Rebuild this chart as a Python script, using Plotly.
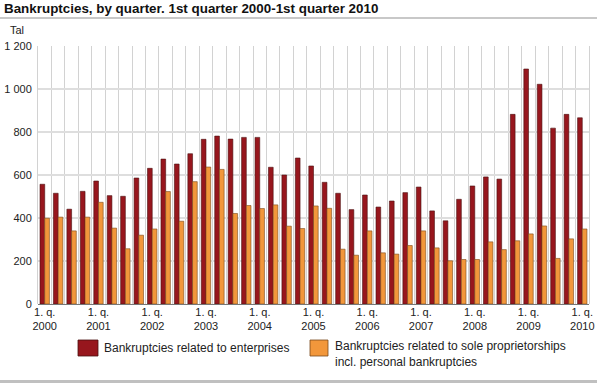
import plotly.graph_objects as go

# ---- data ----
years = list(range(2000, 2011))
quarters = [f"{y} Q{q}" for y in range(2000, 2010) for q in range(1, 5)] + ["2010 Q1"]

enterprises = [
    557, 515, 441, 524,
    572, 504, 501, 586,
    631, 674, 651, 699,
    766, 781, 767, 775,
    775, 636, 600, 679,
    642, 566, 515, 439,
    507, 451, 479, 518,
    544, 433, 387, 487,
    549, 591, 581, 882,
    1093, 1022, 818, 882,
    866,
]
sole_proprietorships = [
    399, 404, 340, 404,
    473, 353, 257, 320,
    349, 523, 385, 569,
    637, 626, 421, 458,
    444, 461, 362, 351,
    456, 445, 255, 227,
    340, 238, 232, 272,
    340, 261, 201, 207,
    207, 289, 253, 294,
    326, 363, 212, 303,
    349,
]

y_tickvals = [0, 200, 400, 600, 800, 1000, 1200]
y_ticktext = ["0", "200", "400", "600", "800", "1 000", "1 200"]
x_tick_labels = [f"1. q.<br>{y}" for y in years]

series_names = [
    "Bankruptcies related to enterprises",
    "Bankruptcies related to sole proprietorships<br>incl. personal bankruptcies",
]
title_text = "Bankruptcies, by quarter. 1st quarter 2000-1st quarter 2010"

RED = "#97161D"
ORANGE = "#F2973B"
FONT = "Liberation Sans, Arial, sans-serif"

# ---- figure ----
xpos = list(range(len(quarters)))
x_tickvals = [i for i, q in enumerate(quarters) if q.endswith("Q1")]

fig = go.Figure()
fig.add_trace(go.Bar(
    x=xpos, y=enterprises, name=series_names[0], customdata=quarters,
    marker=dict(color=RED, line=dict(color="#4a1010", width=0.6)),
))
fig.add_trace(go.Bar(
    x=xpos, y=sole_proprietorships, name=series_names[1], customdata=quarters,
    marker=dict(color=ORANGE, line=dict(color="#7a4a1c", width=0.6)),
))

W, H = 597, 383
PX0, PX1, PY0, PY1 = 38, 589, 46, 304   # plot area in pixels
L, R, T, B = PX0, W - PX1, PY0, H - PY1
pw, ph = PX1 - PX0, PY1 - PY0

def px_x(p):  # pixel x -> paper
    return (p - PX0) / pw

def px_y(p):  # pixel y -> paper
    return (PY1 - p) / ph

fig.update_layout(
    width=W, height=H,
    margin=dict(l=L, r=R, t=T, b=B, autoexpand=False),
    paper_bgcolor="white", plot_bgcolor="white",
    barmode="group", bargap=0.3, bargroupgap=0,
    showlegend=False,
    font=dict(family=FONT, size=11, color="#222"),
    title=dict(
        text="<b>" + title_text + "</b>",
        x=4 / W, xanchor="left", xref="container",
        y=1 - 8.5 / H, yanchor="middle", yref="container",
        pad=dict(l=0, r=0, t=0, b=0),
        font=dict(family=FONT, size=13.4, color="#111"),
    ),
    xaxis=dict(
        range=[-0.5, len(quarters) - 0.5], automargin=False,
        tickmode="array", tickvals=x_tickvals, ticktext=x_tick_labels,
        showgrid=False, zeroline=False,
        ticks="", showline=False,
        minor=dict(tickmode="linear", tick0=-0.5, dtick=1, showgrid=True,
                   gridcolor="#d2d2d2", gridwidth=1, ticks=""),
        tickfont=dict(size=11, color="#222"),
    ),
    yaxis=dict(
        range=[0, 1200], automargin=False,
        tickmode="array", tickvals=y_tickvals, ticktext=y_ticktext,
        showgrid=True, gridcolor="#dedede", gridwidth=2,
        zeroline=True, zerolinecolor="#777", zerolinewidth=1,
        showline=True, linecolor="#d2d2d2", linewidth=1, mirror=True,
        ticks="", ticklabelstandoff=3,
        tickfont=dict(size=11, color="#222"),
    ),
)

# header / footer rules
fig.add_shape(type="line", xref="paper", yref="paper",
              x0=px_x(0), x1=px_x(W), y0=px_y(18), y1=px_y(18),
              line=dict(color="#c8c8c8", width=2))
fig.add_shape(type="line", xref="paper", yref="paper",
              x0=px_x(0), x1=px_x(W), y0=px_y(381.5), y1=px_y(381.5),
              line=dict(color="#c0c0c0", width=3))

# axis unit label
fig.add_annotation(text="Tal", xref="paper", yref="paper",
                   x=px_x(8), y=px_y(30), xanchor="left", yanchor="middle",
                   showarrow=False, font=dict(size=11, color="#222"))

# legend
legend_items = [(78, 98, 102, RED, "#4a1010", series_names[0], 348),
                (310, 328, 333, ORANGE, "#7a4a1c", series_names[1], 354)]
for x0, x1, tx, col, lc, name, ty in legend_items:
    fig.add_shape(type="rect", xref="paper", yref="paper",
                  x0=px_x(x0), x1=px_x(x1), y0=px_y(340), y1=px_y(356),
                  fillcolor=col, line=dict(color=lc, width=0.8))
    fig.add_annotation(text=name, xref="paper", yref="paper",
                       x=px_x(tx), y=px_y(ty), xanchor="left", yanchor="middle",
                       align="left", showarrow=False,
                       font=dict(size=12, color="#222"))

# remove the browser's default 8px body margin so the figure fills the window
fig.write_html("out.html",
               config={"displayModeBar": False},
               post_script="document.body.style.margin='0';document.body.style.overflow='hidden';")
